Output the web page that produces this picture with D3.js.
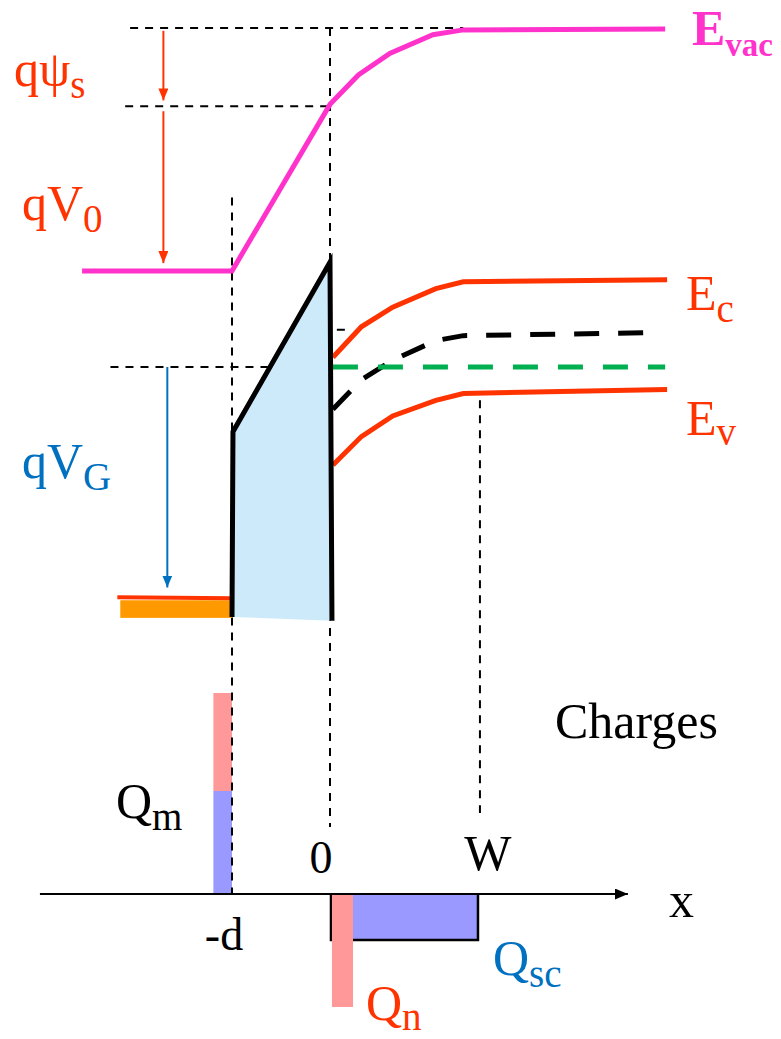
<!DOCTYPE html>
<html>
<head>
<meta charset="utf-8">
<script src="https://cdn.jsdelivr.net/npm/d3@7"></script>
<style>
  body { margin: 0; background: #fff; }
  svg { display: block; font-family: "Liberation Serif", "Times New Roman", serif; }
</style>
</head>
<body>
<svg id="chart" width="781" height="1039"></svg>
<script>
// ---- data (x in units of oxide thickness d, energies in eV, charges arbitrary) ----
const evacX = [-2.53, -1, 0, 0.29, 0.61, 1.05, 1.36, 3.42];
const evacE = [0.98, 0.98, 2.68, 2.98, 3.20, 3.39, 3.44, 3.45];

const bandX = [0.03, 0.32, 0.64, 1.08, 1.36, 3.44];
const ecE = [0.10, 0.41, 0.61, 0.80, 0.87, 0.89];
const evE = [-1.00, -0.71, -0.50, -0.34, -0.27, -0.23];
const eiX = [0.03, 0.32, 0.64, 1.08, 1.36, 3.29];
const eiE = [-0.43, -0.13, 0.07, 0.27, 0.32, 0.35];
const efX = [0.03, 3.42];
const efE = 0;

// oxide corners: bottom-left, top-left, top-right, bottom-right
const oxideX = [-1, -0.99, 0, 0.02];
const oxideE = [-2.55, -0.66, 1.07, -2.59];

// metal gate
const metalX = [-2.17, -1];
const metalEF = [-2.35, -2.36];
const metalFillX = [-2.14, -1];
const metalFillE = [-2.38, -2.56];

// potential arrows [x, from, to]
const psiArrow = [-1.70, 3.43, 2.72];
const v0Arrow = [-1.70, 2.61, 1.06];
const vgArrow = [-1.66, 0, -2.25];

// charge distribution
const qmX = [-1.19, -1];
const qmParts = [1.03, 0.98];      // lower (blue), upper (pink)
const qnX = [0.02, 0.235];
const qnVal = -1.13;
const qscX = [0.01, 1.51];
const qscVal = -0.46;
const W = 1.53;
const axisX = [-2.96, 3.04];

// dashed guides
const guidesH = [
  { E: 3.46, x0: -2.04, x1: 1.36 },
  { E: 2.66, x0: -2.09, x1: 0 },
  { E: 0, x0: -2.24, x1: 0 },
  { E: 0.38, x0: 0.07, x1: 0.19 }
];
const guidesV = [
  { x: -1, E: 1.73, Q: 0 },
  { x: 0, E: 3.46, Q: 0.67 },
  { x: W, E: -0.34, Q: 0.81 }
];

// ---- scales ----
const xs = d3.scaleLinear().domain([-1, 0]).range([232, 330]);
const ys = d3.scaleLinear().domain([0, 1]).range([367, 269]);
const qs = d3.scaleLinear().domain([0, 1]).range([894, 794]);

const red = '#ff3300', pink = '#ff33cc', blue = '#0070c0';

const svg = d3.select('#chart');
const defs = svg.append('defs');

function marker(id, color, w, h) {
  defs.append('marker')
    .attr('id', id)
    .attr('viewBox', `0 0 ${h} ${w}`)
    .attr('refX', h).attr('refY', w / 2)
    .attr('markerWidth', h).attr('markerHeight', w)
    .attr('markerUnits', 'userSpaceOnUse')
    .attr('orient', 'auto')
    .append('path')
    .attr('d', `M0,0L${h},${w / 2}L0,${w}Z`)
    .attr('fill', color);
}
marker('arRed', red, 10, 12);
marker('arBlue', blue, 10, 12);
marker('arBlack', '#000', 11, 13);

const line = d3.line();
const pts = (X, E) => X.map((x, i) => [xs(x), ys(E[i])]);

// ---- charges (bars) ----
const g = svg.append('g');
// Qsc box
g.append('rect')
  .attr('x', xs(qscX[0])).attr('y', qs(0))
  .attr('width', xs(qscX[1]) - xs(qscX[0]))
  .attr('height', qs(qscVal) - qs(0))
  .attr('fill', '#9999ff');
g.append('path')
  .attr('d', line([[xs(qscX[0]), qs(0)], [xs(qscX[0]), qs(qscVal)], [xs(qscX[1]), qs(qscVal)], [xs(qscX[1]), qs(0)]]))
  .attr('fill', 'none').attr('stroke', '#000').attr('stroke-width', 2.5);
// Qn
g.append('rect')
  .attr('x', xs(qnX[0])).attr('y', qs(0))
  .attr('width', xs(qnX[1]) - xs(qnX[0]))
  .attr('height', qs(qnVal) - qs(0))
  .attr('fill', '#ff9999');
// Qm stacked
g.append('rect')
  .attr('x', xs(qmX[0])).attr('y', qs(qmParts[0]))
  .attr('width', xs(qmX[1]) - xs(qmX[0]))
  .attr('height', qs(0) - qs(qmParts[0]))
  .attr('fill', '#9999ff');
g.append('rect')
  .attr('x', xs(qmX[0])).attr('y', qs(qmParts[0] + qmParts[1]))
  .attr('width', xs(qmX[1]) - xs(qmX[0]))
  .attr('height', qs(qmParts[0]) - qs(qmParts[0] + qmParts[1]))
  .attr('fill', '#ff9999');

// ---- dashed guides ----
guidesH.forEach(d => {
  svg.append('line')
    .attr('x1', xs(d.x0)).attr('x2', xs(d.x1))
    .attr('y1', ys(d.E)).attr('y2', ys(d.E))
    .attr('stroke', '#000').attr('stroke-width', 2).attr('stroke-dasharray', '8,7');
});
guidesV.forEach(d => {
  svg.append('line')
    .attr('x1', xs(d.x)).attr('x2', xs(d.x))
    .attr('y1', ys(d.E)).attr('y2', qs(d.Q))
    .attr('stroke', '#000').attr('stroke-width', 2).attr('stroke-dasharray', '8,7');
});

// ---- oxide ----
const ox = pts(oxideX, oxideE);
svg.append('path').attr('d', line(ox) + 'Z').attr('fill', '#cdeafb');

// ---- metal ----
svg.append('rect')
  .attr('x', xs(metalFillX[0])).attr('y', ys(metalFillE[0]))
  .attr('width', xs(metalFillX[1]) - xs(metalFillX[0]))
  .attr('height', ys(metalFillE[1]) - ys(metalFillE[0]))
  .attr('fill', '#ff9900');
svg.append('path').attr('d', line(pts(metalX, metalEF)))
  .attr('stroke', red).attr('stroke-width', 4).attr('fill', 'none');

// ---- bands ----
svg.append('path').attr('d', line(pts(evacX, evacE)))
  .attr('stroke', pink).attr('stroke-width', 5).attr('fill', 'none');
svg.append('path').attr('d', line(pts(bandX, ecE)))
  .attr('stroke', red).attr('stroke-width', 5).attr('fill', 'none');
svg.append('path').attr('d', line(pts(bandX, evE)))
  .attr('stroke', red).attr('stroke-width', 5).attr('fill', 'none');
svg.append('path').attr('d', line(pts(eiX, eiE)))
  .attr('stroke', '#000').attr('stroke-width', 5).attr('fill', 'none')
  .attr('stroke-dasharray', '25,19');
svg.append('line')
  .attr('x1', xs(efX[0])).attr('x2', xs(efX[1]))
  .attr('y1', ys(efE)).attr('y2', ys(efE))
  .attr('stroke', '#00b050').attr('stroke-width', 5).attr('stroke-dasharray', '25,20');

// oxide outline (no bottom edge)
svg.append('path').attr('d', line(ox))
  .attr('stroke', '#000').attr('stroke-width', 5).attr('fill', 'none')
  .attr('stroke-linejoin', 'miter');

// ---- arrows ----
[[psiArrow, 'arRed', red], [v0Arrow, 'arRed', red], [vgArrow, 'arBlue', blue]].forEach(([a, m, c]) => {
  svg.append('line')
    .attr('x1', xs(a[0])).attr('x2', xs(a[0]))
    .attr('y1', ys(a[1])).attr('y2', ys(a[2]))
    .attr('stroke', c).attr('stroke-width', 2)
    .attr('marker-end', `url(#${m})`);
});

// ---- x axis of charges ----
svg.append('line')
  .attr('x1', xs(axisX[0])).attr('x2', xs(axisX[1]))
  .attr('y1', qs(0)).attr('y2', qs(0))
  .attr('stroke', '#000').attr('stroke-width', 2)
  .attr('marker-end', 'url(#arBlack)');

// ---- labels ----
function label(x, y, main, sub, color, opts = {}) {
  const t = svg.append('text')
    .attr('x', x).attr('y', y)
    .attr('fill', color)
    .attr('font-size', opts.size || 50)
    .attr('font-weight', opts.bold ? 'bold' : 'normal')
    .attr('text-anchor', opts.anchor || 'start');
  t.append('tspan').text(main);
  if (sub) {
    t.append('tspan')
      .attr('font-size', opts.subSize || 39)
      .attr('dy', opts.dy || 12)
      .text(sub);
  }
  return t;
}

label(14, 86, 'qψ', 's', red);
label(22, 220, 'qV', '0', red);
label(22, 478, 'qV', 'G', blue);
label(692, 45, 'E', 'vac', pink, { bold: true, subSize: 33, dy: 11 });
label(686, 310, 'E', 'c', red);
label(686, 435, 'E', 'v', red, { dy: 10 });
label(555, 738, 'Charges', null, '#000');
label(116, 818, 'Q', 'm', '#000');
label(xs(0) - 9, 873, '0', null, '#000', { size: 46, anchor: 'middle' });
label(xs(W) + 8, 870, 'W', null, '#000', { anchor: 'middle' });
label(xs(-1) - 8, 950, '-d', null, '#000', { size: 46, anchor: 'middle' });
label(669, 917, 'x', null, '#000');
label(493, 975, 'Q', 'sc', blue);
label(366, 1020, 'Q', 'n', red, { dy: 10 });
</script>
</body>
</html>
